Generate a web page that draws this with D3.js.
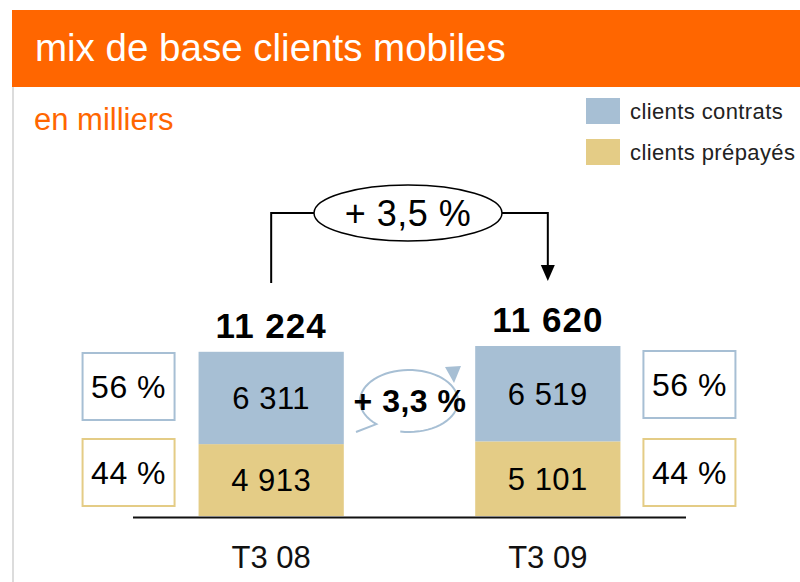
<!DOCTYPE html>
<html>
<head>
<meta charset="utf-8">
<script src="https://cdn.jsdelivr.net/npm/d3@7"></script>
<style>
  body { margin: 0; background: #fff; }
  svg { display: block; font-family: "Liberation Sans", Arial, Helvetica, sans-serif; }
</style>
</head>
<body>
<div id="chart"></div>
<script>
// data (milliers)
const periods = ['T3 08', 'T3 09'];
const contrats = [6311, 6519];
const prepayes = [4913, 5101];
const seriesNames = ['clients contrats', 'clients prépayés'];

const width = 800, height = 582;
const colors = { contrats: '#a7bfd4', prepayes: '#e4cc86', orange: '#ff6600' };

const totals = periods.map((p, i) => contrats[i] + prepayes[i]);
const fmtNum = v => d3.format(',')(v).replace(/,/g, ' ');
const fmtPct = v => '+ ' + d3.format('.1f')(v).replace('.', ',') + ' %';

const svg = d3.select('#chart').append('svg')
    .attr('width', width)
    .attr('height', height);

// header band
svg.append('rect')
    .attr('x', 12).attr('y', 10)
    .attr('width', width - 12).attr('height', 77)
    .attr('fill', colors.orange);

svg.append('text')
    .attr('x', 35).attr('y', 61)
    .attr('fill', '#fff')
    .style('font-size', '38.5px')
    .text('mix de base clients mobiles');

svg.append('line')
    .attr('x1', 13).attr('x2', 13)
    .attr('y1', 87).attr('y2', height)
    .attr('stroke', '#dcdcdc')
    .attr('stroke-width', 2);

svg.append('text')
    .attr('x', 34).attr('y', 130)
    .attr('fill', colors.orange)
    .style('font-size', '31px')
    .text('en milliers');

// legend
const legend = svg.append('g').attr('transform', 'translate(586, 98)');
legend.selectAll('rect')
    .data(seriesNames)
    .enter()
    .append('rect')
    .attr('x', 0)
    .attr('y', (d, i) => i * 41)
    .attr('width', 34).attr('height', 26)
    .attr('fill', (d, i) => i === 0 ? colors.contrats : colors.prepayes);
legend.selectAll('text')
    .data(seriesNames)
    .enter()
    .append('text')
    .attr('x', 44)
    .attr('y', (d, i) => i * 41 + 21)
    .style('font-size', '22px')
    .style('letter-spacing', '0.4px')
    .attr('fill', '#222')
    .text(d => d);

// scales
const x = d3.scaleBand()
    .domain(periods)
    .range([133, 686])
    .paddingInner(0.475)
    .paddingOuter(0.237);

const y = d3.scaleLinear()
    .domain([0, d3.max(totals)])
    .range([516, 346]);

const bars = svg.selectAll('.period')
    .data(periods)
    .enter()
    .append('g')
    .attr('class', 'period')
    .attr('transform', d => `translate(${x(d)},0)`);

// prepaid (bottom)
bars.append('rect')
    .attr('y', (d, i) => y(prepayes[i]))
    .attr('width', x.bandwidth())
    .attr('height', (d, i) => y(0) - y(prepayes[i]))
    .attr('fill', colors.prepayes);

// contracts (top)
bars.append('rect')
    .attr('y', (d, i) => y(totals[i]))
    .attr('width', x.bandwidth())
    .attr('height', (d, i) => y(prepayes[i]) - y(totals[i]))
    .attr('fill', colors.contrats);

bars.append('text')
    .attr('x', x.bandwidth() / 2)
    .attr('y', (d, i) => (y(totals[i]) + y(prepayes[i])) / 2 + 11)
    .attr('text-anchor', 'middle')
    .style('font-size', '31px')
    .style('letter-spacing', '0.5px')
    .text((d, i) => fmtNum(contrats[i]));

bars.append('text')
    .attr('x', x.bandwidth() / 2)
    .attr('y', (d, i) => (y(prepayes[i]) + y(0)) / 2 + 11)
    .attr('text-anchor', 'middle')
    .style('font-size', '31px')
    .style('letter-spacing', '0.5px')
    .text((d, i) => fmtNum(prepayes[i]));

bars.append('text')
    .attr('x', x.bandwidth() / 2)
    .attr('y', (d, i) => y(totals[i]) - 14)
    .attr('text-anchor', 'middle')
    .style('font-size', '35px')
    .style('font-weight', 'bold')
    .style('letter-spacing', '1px')
    .text((d, i) => fmtNum(totals[i]));

bars.append('text')
    .attr('x', x.bandwidth() / 2)
    .attr('y', 568)
    .attr('text-anchor', 'middle')
    .style('font-size', '31px')
    .attr('fill', '#111')
    .text(d => d);

// baseline
svg.append('line')
    .attr('x1', 133).attr('x2', 686)
    .attr('y1', y(0) + 1.5).attr('y2', y(0) + 1.5)
    .attr('stroke', '#111')
    .attr('stroke-width', 2);

// share boxes on the outer sides
const boxW = 92, boxH = 67;
periods.forEach((p, i) => {
  const bx = i === 0 ? x(p) - 24 - boxW : x(p) + x.bandwidth() + 23;
  const shares = [
    { v: Math.round(contrats[i] / totals[i] * 100), c: colors.contrats, top: i === 0 ? 353 : 351 },
    { v: Math.round(prepayes[i] / totals[i] * 100), c: colors.prepayes, top: 439 }
  ];
  shares.forEach(s => {
    svg.append('rect')
        .attr('x', bx).attr('y', s.top)
        .attr('width', boxW).attr('height', boxH)
        .attr('fill', '#fff')
        .attr('stroke', s.c)
        .attr('stroke-width', 2);
    svg.append('text')
        .attr('x', bx + boxW / 2).attr('y', s.top + boxH / 2 + 11)
        .attr('text-anchor', 'middle')
        .style('font-size', '32px')
        .style('letter-spacing', '0.5px')
        .text(s.v + ' %');
  });
});

// total growth bracket
const cx0 = x(periods[0]) + x.bandwidth() / 2,
    cx1 = x(periods[1]) + x.bandwidth() / 2,
    bracketY = 213;
const ell = { cx: 408, cy: bracketY, rx: 94, ry: 28 };

svg.append('path')
    .attr('d', `M${cx0},283 V${bracketY} H${ell.cx - ell.rx}`)
    .attr('fill', 'none')
    .attr('stroke', '#000')
    .attr('stroke-width', 2);
svg.append('path')
    .attr('d', `M${ell.cx + ell.rx},${bracketY} H${cx1} V268`)
    .attr('fill', 'none')
    .attr('stroke', '#000')
    .attr('stroke-width', 2);
svg.append('path')
    .attr('d', `M${cx1 - 7},265 L${cx1 + 7},265 L${cx1},281 Z`)
    .attr('fill', '#000');
svg.append('ellipse')
    .attr('cx', ell.cx).attr('cy', ell.cy)
    .attr('rx', ell.rx).attr('ry', ell.ry)
    .attr('fill', '#fff')
    .attr('stroke', '#000')
    .attr('stroke-width', 1.5);
svg.append('text')
    .attr('x', ell.cx).attr('y', ell.cy + 13)
    .attr('text-anchor', 'middle')
    .style('font-size', '36px')
    .style('letter-spacing', '0.5px')
    .text(fmtPct((totals[1] / totals[0] - 1) * 100));

// contract growth loop
const loop = { cx: 409, cy: 401, rx: 49, ry: 31 };
const pt = a => [loop.cx + loop.rx * Math.cos(a), loop.cy + loop.ry * Math.sin(a)];
const a0 = 2.3, a1 = 2.3 + Math.PI * 2 - 0.55;
const loopPts = d3.range(0, 61).map(k => pt(a0 + (a1 - a0) * k / 60));
svg.append('path')
    .attr('d', d3.line()([[356, 432]].concat(loopPts)))
    .attr('fill', 'none')
    .attr('stroke', colors.contrats)
    .attr('stroke-width', 2);
svg.append('path')
    .attr('d', 'M445,367 L461,366 L454,383 Z')
    .attr('fill', colors.contrats);
svg.append('text')
    .attr('x', 410).attr('y', 412)
    .attr('text-anchor', 'middle')
    .style('font-size', '32px')
    .style('font-weight', 'bold')
    .style('letter-spacing', '0.5px')
    .text(fmtPct((contrats[1] / contrats[0] - 1) * 100));
</script>
</body>
</html>
